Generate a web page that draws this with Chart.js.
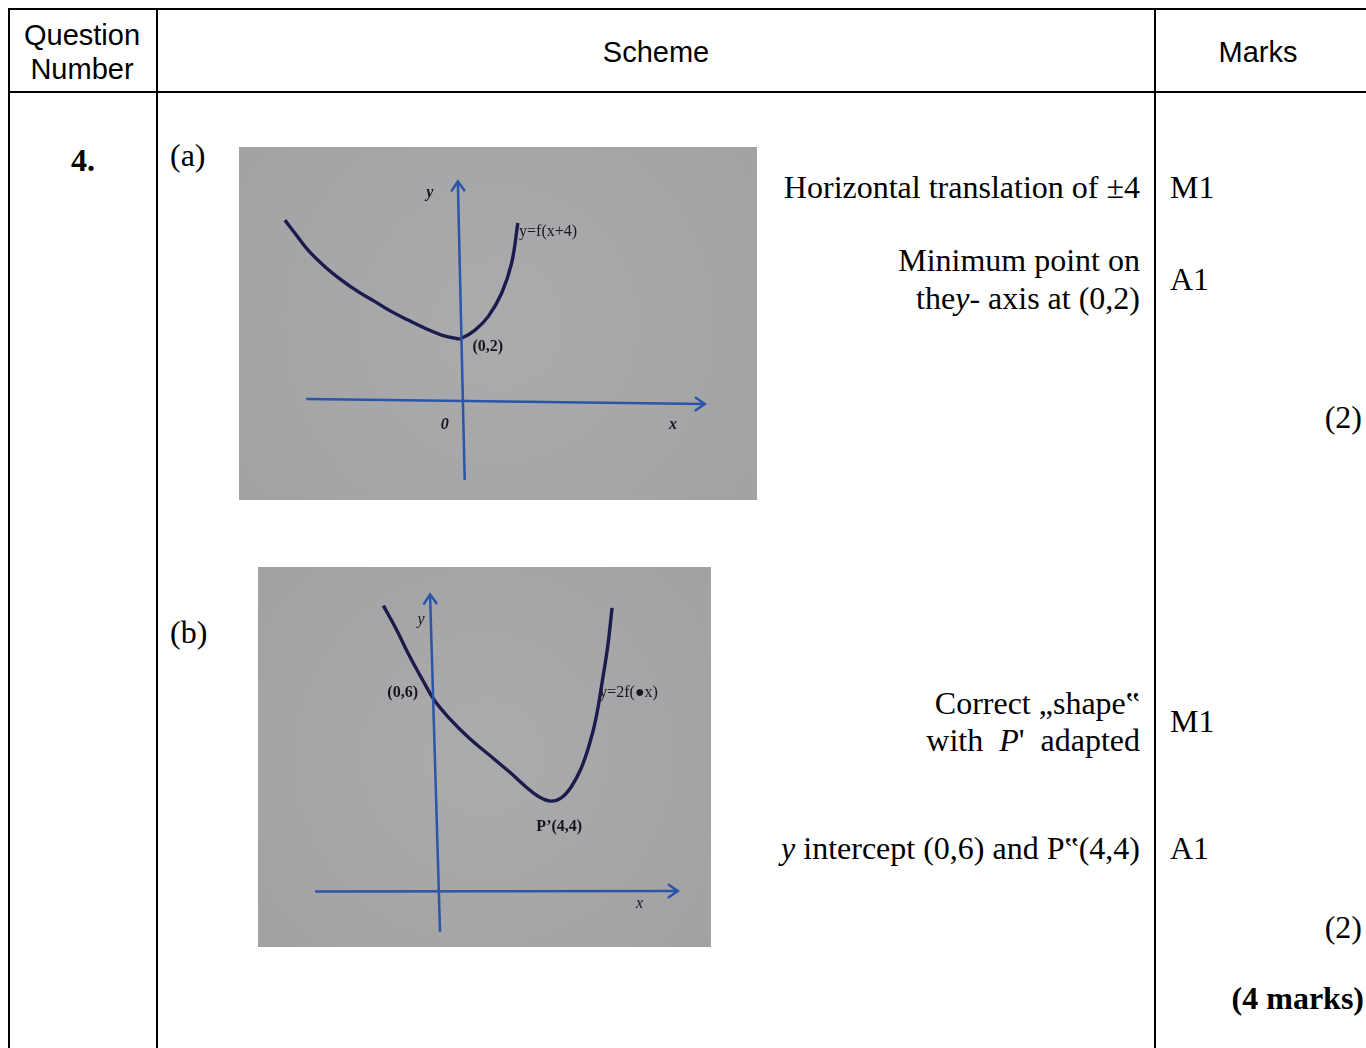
<!DOCTYPE html>
<html>
<head>
<meta charset="utf-8">
<script src="https://cdn.jsdelivr.net/npm/chart.js@4.4.0/dist/chart.umd.min.js"></script>
<style>
  html, body { margin: 0; padding: 0; background: #fff; }
  body { width: 1366px; height: 1048px; overflow: hidden; position: relative; }
  .ln { position: absolute; background: #000; }
  .t { position: absolute; white-space: nowrap; line-height: 1; color: #000; }
  .arial { font-family: "Liberation Sans", Arial, sans-serif; font-size: 29px; }
  .times { font-family: "Liberation Serif", "Times New Roman", serif; font-size: 32px; }
  .b { font-weight: bold; }
  .graph { position: absolute; }
</style>
</head>
<body>
<!-- table rules -->
<div class="ln" style="left:8px;top:8px;width:1400px;height:2px"></div>
<div class="ln" style="left:8px;top:91px;width:1400px;height:2px"></div>
<div class="ln" style="left:8px;top:8px;width:2px;height:1050px"></div>
<div class="ln" style="left:156px;top:8px;width:2px;height:1050px"></div>
<div class="ln" style="left:1154px;top:8px;width:2px;height:1050px"></div>

<div class="graph" style="left:239px;top:147px;width:518px;height:353px">
  <canvas id="chartA" width="518" height="353"></canvas>
</div>
<div class="graph" style="left:258px;top:567px;width:453px;height:380px">
  <canvas id="chartB" width="453" height="380"></canvas>
</div>

<div id="texts"></div>

<script>
// ─── DATA ─────────────────────────────────────────
// graph (a): y = f(x+4), minimum on the y-axis at (0,2)
const curveAX = [-5.63, -5.31, -4.89, -4.35, -3.82, -3.29, -2.75, -2.22, -1.69, -1.15, -0.62, -0.19, 0.00, 0.45, 0.87, 1.30, 1.62, 1.82];
const curveAY = [5.79, 5.37, 4.83, 4.30, 3.87, 3.50, 3.18, 2.86, 2.59, 2.33, 2.11, 2.01, 2.00, 2.27, 2.70, 3.45, 4.41, 5.70];
const axisAX = { from: [-4.95, 0.06], to: [7.80, -0.10] };
const axisAY = { from: [0.12, -2.53], to: [-0.10, 7.03] };
const rangeA = { x: [-7.10, 9.47], y: [-3.17, 8.13] };
const labelsA = [
    { text: 'y', x: -1.00, y: 6.65, align: 'center', italic: true, bold: true },
    { text: 'y=f(x+4)', x: 1.86, y: 5.40, align: 'left' },
    { text: '(0,2)', x: 0.86, y: 1.74, align: 'center', bold: true },
    { text: '0', x: -0.52, y: -0.77, align: 'center', italic: true, bold: true },
    { text: 'x', x: 6.78, y: -0.77, align: 'center', italic: true, bold: true },
];

// graph (b): y = 2f(x), P' the new minimum
const curveBX = [-1.54, -1.15, -0.74, -0.32, 0.04, 0.51, 1.13, 1.75, 2.37, 2.89, 3.30, 3.66, 3.98, 4.29, 4.60, 4.85, 5.06, 5.27, 5.43, 5.56];
const curveBY = [8.88, 8.17, 7.34, 6.57, 5.95, 5.38, 4.76, 4.24, 3.72, 3.25, 2.94, 2.81, 2.91, 3.25, 3.83, 4.55, 5.38, 6.62, 7.66, 8.81];
const axisBX = { from: [-3.66, 0.00], to: [7.60, 0.02] };
const axisBY = { from: [0.22, -1.25], to: [-0.09, 9.23] };
const rangeB = { x: [-5.43, 8.63], y: [-1.72, 10.08] };
const labelsB = [
    { text: 'y', x: -0.37, y: 8.43, align: 'center', italic: true },
    { text: '(0,6)', x: -0.94, y: 6.16, align: 'center', bold: true },
    { text: 'y=2f(\u25CFx)', x: 5.16, y: 6.16, align: 'left' },
    { text: 'P\u2019(4,4)', x: 3.92, y: 2.01, align: 'center', bold: true },
    { text: 'x', x: 6.41, y: -0.37, align: 'center', italic: true },
];

// ─── PAGE TEXT ────────────────────────────────────
// [text(html), x, centre y, anchor, class]
const pageTexts = [
    ['Question', 82, 35, 'c', 'arial'],
    ['Number', 82, 69, 'c', 'arial'],
    ['Scheme', 656, 52, 'c', 'arial'],
    ['Marks', 1258, 52, 'c', 'arial'],
    ['4.', 83, 160, 'c', 'times b'],
    ['(a)', 170, 155, 'l', 'times'],
    ['Horizontal translation of \u00B14', 1140, 187, 'r', 'times'],
    ['Minimum point on', 1140, 260, 'r', 'times'],
    ['the<i>y</i>- axis at (0,2)', 1140, 298, 'r', 'times'],
    ['M1', 1170, 187, 'l', 'times'],
    ['A1', 1170, 279, 'l', 'times'],
    ['(2)', 1362, 417, 'r', 'times'],
    ['(b)', 170, 632, 'l', 'times'],
    ['Correct \u201Eshape\u201F', 1140, 703, 'r', 'times'],
    ['with&nbsp; <i>P</i>\'&nbsp; adapted', 1140, 740, 'r', 'times'],
    ['M1', 1170, 721, 'l', 'times'],
    ['<i>y</i> intercept (0,6) and P\u201F(4,4)', 1140, 848, 'r', 'times'],
    ['A1', 1170, 848, 'l', 'times'],
    ['(2)', 1362, 927, 'r', 'times'],
    ['(4 marks)', 1364, 998, 'r', 'times b'],
];

function placeTexts() {
    const host = document.getElementById('texts');
    pageTexts.forEach(([html, x, y, anchor, cls]) => {
        const d = document.createElement('div');
        d.className = 't ' + cls;
        d.innerHTML = html;
        const half = cls.indexOf('arial') >= 0 ? 14 : 16;
        d.style.top = (y - half) + 'px';
        if (anchor === 'l') d.style.left = x + 'px';
        else if (anchor === 'r') d.style.right = (1366 - x) + 'px';
        else { d.style.left = x + 'px'; d.style.transform = 'translateX(-50%)'; }
        host.appendChild(d);
    });
}

// ─── PLUGINS ──────────────────────────────────────
const photoBg = {
    id: 'photoBg',
    beforeDraw(chart) {
        const { ctx, width, height } = chart;
        const g = ctx.createRadialGradient(width / 2, height / 2, 10, width / 2, height / 2, width * 0.7);
        g.addColorStop(0, '#ababad');
        g.addColorStop(1, '#a1a1a3');
        ctx.save();
        ctx.fillStyle = g;
        ctx.fillRect(0, 0, width, height);
        ctx.restore();
    },
};

function drawArrow(ctx, x0, y0, x1, y1) {
    const ang = Math.atan2(y1 - y0, x1 - x0);
    const len = 11, spread = 0.6;
    ctx.beginPath();
    ctx.moveTo(x1 - len * Math.cos(ang - spread), y1 - len * Math.sin(ang - spread));
    ctx.lineTo(x1, y1);
    ctx.lineTo(x1 - len * Math.cos(ang + spread), y1 - len * Math.sin(ang + spread));
    ctx.stroke();
}

const axisDecor = {
    id: 'axisDecor',
    afterDatasetsDraw(chart, args, opts) {
        const { ctx, scales: { x, y } } = chart;
        ctx.save();
        ctx.strokeStyle = '#2b55a8';
        ctx.lineWidth = 2.5;
        ctx.lineCap = 'round';
        opts.axes.forEach(a => {
            drawArrow(ctx, x.getPixelForValue(a.from[0]), y.getPixelForValue(a.from[1]),
                x.getPixelForValue(a.to[0]), y.getPixelForValue(a.to[1]));
        });
        opts.labels.forEach(l => {
            ctx.font = (l.italic ? 'italic ' : '') + (l.bold ? 'bold ' : '') + '16px "Liberation Serif", serif';
            ctx.fillStyle = '#16161e';
            ctx.textAlign = l.align;
            ctx.textBaseline = 'middle';
            ctx.fillText(l.text, x.getPixelForValue(l.x), y.getPixelForValue(l.y));
        });
        ctx.restore();
    },
};

function makeGraph(id, cx, cy, ax, ay, range, labels) {
    const line = (pts, color, w) => ({
        data: pts, showLine: true, borderColor: color, borderWidth: w,
        pointRadius: 0, fill: false, tension: 0.4,
    });
    new Chart(document.getElementById(id), {
        type: 'scatter',
        data: {
            datasets: [
                line([{ x: ax.from[0], y: ax.from[1] }, { x: ax.to[0], y: ax.to[1] }], '#2b55a8', 2.5),
                line([{ x: ay.from[0], y: ay.from[1] }, { x: ay.to[0], y: ay.to[1] }], '#2b55a8', 2.5),
                line(cx.map((v, i) => ({ x: v, y: cy[i] })), '#1b1b4d', 3.4),
            ],
        },
        options: {
            responsive: false,
            animation: false,
            devicePixelRatio: 1,
            layout: { padding: 0 },
            plugins: {
                legend: { display: false },
                tooltip: { enabled: false },
                axisDecor: { axes: [ax, ay], labels },
            },
            scales: {
                x: { type: 'linear', display: false, min: range.x[0], max: range.x[1] },
                y: { type: 'linear', display: false, min: range.y[0], max: range.y[1] },
            },
        },
        plugins: [photoBg, axisDecor],
    });
}

placeTexts();
makeGraph('chartA', curveAX, curveAY, axisAX, axisAY, rangeA, labelsA);
makeGraph('chartB', curveBX, curveBY, axisBX, axisBY, rangeB, labelsB);
</script>
</body>
</html>
